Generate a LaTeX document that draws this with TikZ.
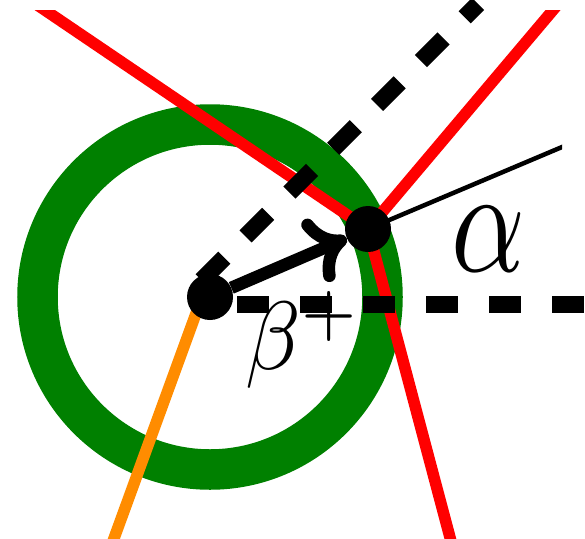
\documentclass[tikz,border=0pt]{standalone}
\usetikzlibrary{arrows.meta}
\pgfdeclarelayer{bg}
\pgfsetlayers{bg,main}
\definecolor{ringgreen}{RGB}{0,128,0}
\definecolor{linered}{RGB}{255,0,0}
\definecolor{lineorange}{RGB}{255,140,0}
\begin{document}
\begin{tikzpicture}[x=1pt,y=-1pt,
  dot/.style={circle,fill=black,minimum size=46pt,inner sep=0pt},
  ring/.style={draw=ringgreen,line width=40.5pt},
  redline/.style={draw=linered,line width=11.5pt,line join=miter},
  orangeline/.style={draw=lineorange,line width=11.5pt},
  dashline/.style={draw=black,line width=17pt,dash pattern=on 32pt off 30pt},
  thinline/.style={draw=black,line width=4.5pt},
  arrowline/.style={draw=black,line width=12.5pt,-{Computer Modern Rightarrow[length=37pt,width=68pt]}},
  lbl/.style={inner sep=0pt,anchor=base west}
]
\useasboundingbox (0,0) rectangle (585,538);
% points
\node[dot] (b) at (210,297) {};
\node[dot] (a) at (368,229) {};
\coordinate (rtl) at (30,0);
\coordinate (rtr) at (561.5,0);
\coordinate (rb) at (452,545);
\coordinate (te) at (572,142.8);
\coordinate (ob) at (111.6,545);
\coordinate (ds) at (201.7,280.3);
\coordinate (de) at (478,4);
\coordinate (hs) at (237,304.5);
\coordinate (he) at (586,304.5);
\begin{pgfonlayer}{bg}
  \draw[ring] (b.center) circle[radius=172.5pt];
  \begin{scope}
    \clip (0,10) rectangle (562,540);
    \draw[redline] (rtl) -- (a.center) -- (rb);
    \draw[redline] (a.center) -- (rtr);
    \draw[thinline] (a.center) -- (te);
  \end{scope}
  \draw[orangeline] ([xshift=-8pt]b.center) -- (ob);
  \draw[dashline] (ds) -- (de);
  \draw[dashline,dash pattern=on 32pt off 31pt] (hs) -- (he);
  \draw[arrowline] (b) -- (a);
\end{pgfonlayer}
\node[lbl,xscale=9,yscale=9.7] (beta) at (244,369) {$\beta^+$};
\node[lbl,xscale=11.5,yscale=15] (alpha) at (449,271) {$\alpha$};
\end{tikzpicture}
\end{document}
